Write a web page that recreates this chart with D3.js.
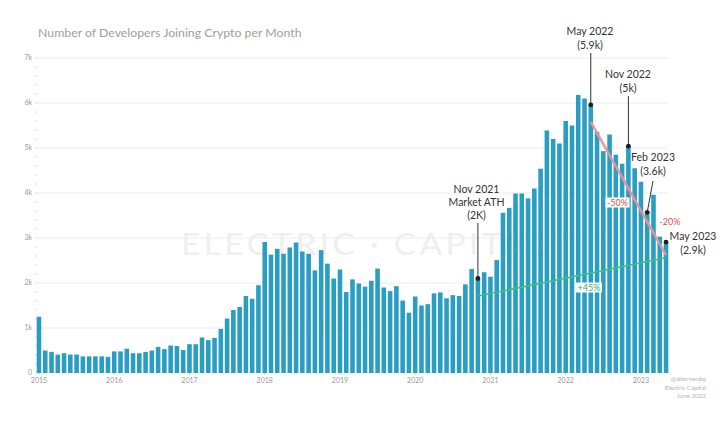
<!DOCTYPE html>
<html><head><meta charset="utf-8">
<script src="https://cdn.jsdelivr.net/npm/d3@7"></script>
<style>body{margin:0;background:#fff}svg{display:block}</style>
</head><body>
<svg id="chart" width="726" height="422"></svg>
<script>
// ---- data ----
const years = ["2015","2016","2017","2018","2019","2020","2021","2022","2023"];
const months = [];
years.forEach(y => { for (let m = 1; m <= 12; m++) months.push(y + "-" + String(m).padStart(2, "0")); });
const categories = months.slice(0, 101); // Jan 2015 .. May 2023

// new developers per month, in thousands
const developersPerMonth = [
  1.25,0.50,0.47,0.41,0.44,0.41,0.41,0.37,0.37,0.37,0.37,0.36,
  0.48,0.48,0.54,0.44,0.44,0.47,0.50,0.58,0.53,0.61,0.60,0.51,
  0.64,0.64,0.79,0.73,0.78,0.98,1.21,1.40,1.47,1.71,1.65,1.95,
  2.91,2.63,2.76,2.65,2.79,2.90,2.70,2.65,2.28,2.73,2.43,2.10,
  2.30,1.80,2.08,1.99,1.92,2.05,2.32,1.90,1.82,1.93,1.61,1.34,
  1.70,1.50,1.53,1.77,1.79,1.66,1.73,1.71,1.97,2.31,2.10,2.24,
  2.14,2.51,3.56,3.67,3.99,3.99,3.88,4.10,4.54,5.39,5.20,5.10,
  5.60,5.50,6.18,6.10,5.96,5.36,4.93,5.30,4.85,4.65,5.04,4.55,
  4.25,3.57,3.96,3.03,2.91
];
const yTickValues = [0,1,2,3,4,5,6,7];
const yTickLabels = ["0","1k","2k","3k","4k","5k","6k","7k"];
const yMinorTicks = d3.range(0, 7.01, 0.2);

const declineTrend = [{month:"2022-05", value:5.58},{month:"2023-05", value:2.62}];
const growthTrend  = [{month:"2020-11", value:1.71},{month:"2023-05", value:2.56}];

const annotationMonths = ["2020-11","2022-05","2022-11","2023-02","2023-05"];
const annotationTexts = [
  ["Nov 2021","Market ATH","(2K)"],
  ["May 2022","(5.9k)"],
  ["Nov 2022","(5k)"],
  ["Feb 2023","(3.6k)"],
  ["May 2023","(2.9k)"]
];
const trendLabels = ["-50%","-20%","+45%"];
const titleText = "Number of Developers Joining Crypto per Month";
const creditLines = ["@alternerdoj","Electric Capital","June 2023"];

// ---- layout ----
const svg = d3.select("#chart");
const FONT = "Lato, 'Open Sans', sans-serif";
const x = d3.scaleBand().domain(categories).range([35, 670]).padding(0.27);
const cx = m => x(m) + x.bandwidth() / 2;
const y = d3.scaleLinear().domain([0, 7]).range([373, 58]);
const valueOf = m => developersPerMonth[categories.indexOf(m)];

// watermark
svg.append("text").attr("x", 181).attr("y", 255)
  .attr("textLength", 368).attr("lengthAdjust", "spacingAndGlyphs")
  .attr("font-family", FONT).attr("font-weight", 400).attr("font-size", 30.5)
  .attr("letter-spacing", 3)
  .attr("fill", "#efefef").text("ELECTRIC · CAPITAL");

// title
svg.append("text").attr("x", 38).attr("y", 37)
  .attr("font-family", FONT).attr("font-size", 12.3).attr("fill", "#a0a0a0")
  .text(titleText);

// grid lines
svg.append("g").selectAll("line").data(yTickValues.slice(1)).join("line")
  .attr("x1", 37).attr("x2", 668).attr("y1", d => y(d)).attr("y2", d => y(d))
  .attr("stroke", "#ececec").attr("stroke-width", 1);

// minor ticks
svg.append("g").selectAll("line").data(yMinorTicks).join("line")
  .attr("x1", 35).attr("x2", 37).attr("y1", d => y(d)).attr("y2", d => y(d))
  .attr("stroke", "#cfcfcf").attr("stroke-width", 0.8);

// y labels
svg.append("g").selectAll("text").data(yTickValues).join("text")
  .attr("x", 32).attr("y", d => y(d) + 2.3).attr("text-anchor", "end")
  .attr("font-family", FONT).attr("font-size", 7).attr("fill", "#9a9a9a")
  .text((d, i) => yTickLabels[i]);

// bars
svg.append("g").selectAll("rect").data(categories).join("rect")
  .attr("x", d => x(d)).attr("width", x.bandwidth())
  .attr("y", (d, i) => y(developersPerMonth[i]))
  .attr("height", (d, i) => y(0) - y(developersPerMonth[i]))
  .attr("fill", "#2a9ec2");

// x labels
svg.append("g").selectAll("text").data(years).join("text")
  .attr("x", d => cx(d + "-01")).attr("y", 383).attr("text-anchor", "middle")
  .attr("font-family", FONT).attr("font-size", 7).attr("fill", "#9a9a9a")
  .text(d => d);
svg.append("g").selectAll("line").data(years).join("line")
  .attr("x1", d => cx(d + "-01")).attr("x2", d => cx(d + "-01"))
  .attr("y1", 373).attr("y2", 375).attr("stroke", "#bbb").attr("stroke-width", 0.8);

// trend lines
const line = d3.line().x(d => cx(d.month)).y(d => y(d.value));
svg.append("path").datum(growthTrend).attr("d", line)
  .attr("stroke", "#3cc27c").attr("stroke-width", 1.6).attr("fill", "none");
svg.append("path").datum(declineTrend).attr("d", line)
  .attr("stroke", "#e8939c").attr("stroke-width", 2.6).attr("fill", "none").attr("opacity", 0.95);

// trend labels
function boxedLabel(txt, px, py, color, box) {
  const g = svg.append("g");
  const t = g.append("text").attr("x", px).attr("y", py).attr("text-anchor", "middle")
    .attr("font-family", FONT).attr("font-size", 9).attr("fill", color).text(txt);
  if (box) {
    const b = t.node().getBBox();
    g.insert("rect", "text").attr("x", b.x - 1.5).attr("y", b.y + 0.5)
      .attr("width", b.width + 3).attr("height", b.height - 1).attr("fill", box);
  }
}
boxedLabel(trendLabels[0], 617.5, 206, "#e0504f", "#ffffff");
boxedLabel(trendLabels[1], 670, 225, "#e0504f", null);
boxedLabel(trendLabels[2], 589, 291, "#2fb36a", "#ffffff");

// annotations
const annLayout = [
  {tx: 476.5, ty: [193, 206, 219], lineTop: 223, anchor: "middle"},
  {tx: 590,   ty: [35, 49],        lineTop: 53,  anchor: "middle"},
  {tx: 628,   ty: [78, 92],        lineTop: 96,  anchor: "middle"},
  {tx: 653,   ty: [161, 175],      lineTop: 181, anchor: "middle", lineX: 653},
  {tx: 693,   ty: [240, 254],      lineTop: null, anchor: "middle"}
];
annotationMonths.forEach((m, i) => {
  const L = annLayout[i];
  const px = cx(m), py = y(valueOf(m));
  if (L.lineTop !== null) {
    svg.append("line").attr("x1", L.lineX || px).attr("y1", L.lineTop)
      .attr("x2", px).attr("y2", py).attr("stroke", "#333").attr("stroke-width", 1);
  }
  svg.append("circle").attr("cx", px).attr("cy", py).attr("r", 2.4).attr("fill", "#1e1e1e");
  annotationTexts[i].forEach((t, j) => {
    svg.append("text").attr("x", L.tx).attr("y", L.ty[j]).attr("text-anchor", L.anchor)
      .attr("font-family", FONT).attr("font-size", 10.5).attr("fill", "#333").text(t);
  });
});

// credits
svg.append("g").selectAll("text").data(creditLines).join("text")
  .attr("x", 706).attr("y", (d, i) => 381 + i * 8.5).attr("text-anchor", "end")
  .attr("font-family", FONT).attr("font-size", 6.3).attr("fill", "#b5b5b5").text(d => d);
</script>
</body></html>
